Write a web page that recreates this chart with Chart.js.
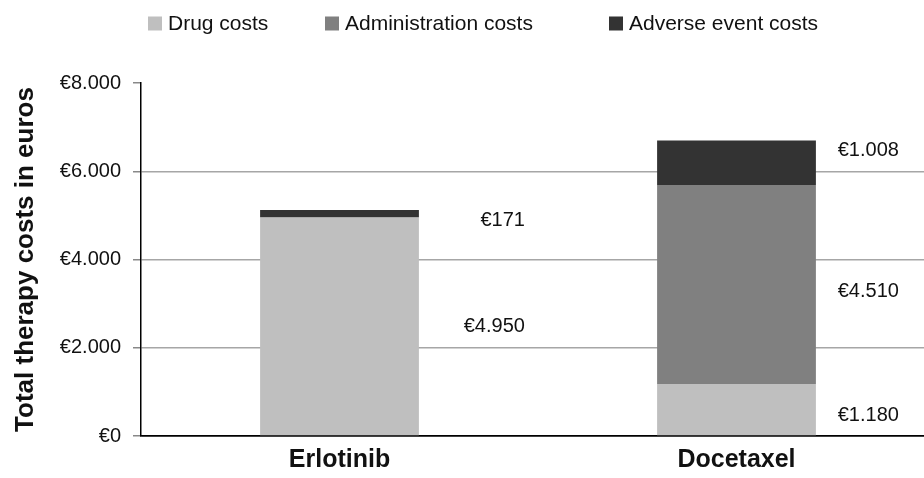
<!DOCTYPE html>
<html><head><meta charset="utf-8">
<script src="https://cdn.jsdelivr.net/npm/chart.js@4/dist/chart.umd.min.js"></script>
<style>html,body{margin:0;padding:0;background:#fff;overflow:hidden}#wrap{width:924px;height:478px;overflow:hidden}#inner{width:935px;height:478px}</style>
</head><body><div id="wrap"><div id="inner"><canvas id="c"></canvas></div></div>
<script>
const categories = ['Erlotinib', 'Docetaxel'];
const seriesNames = ['Drug costs', 'Administration costs', 'Adverse event costs'];
const drugCosts = [4950, 1180];
const adminCosts = [0, 4510];
const adverseCosts = [171, 1008];
const yTicks = [0, 2000, 4000, 6000, 8000];
const colors = ['#bfbfbf', '#808080', '#333333'];

const FONT = '"Liberation Sans", Arial, sans-serif';

function euro(v){
  return '€' + v.toString().replace(/\B(?=(\d{3})+(?!\d))/g, '.');
}

// label placement styling: [dx from bar right edge (right-aligned), dy from segment middle]
const labelPlacement = {
  0: {0:[106,0], 2:[106,7]},
  1: {0:[83,6], 1:[83,7], 2:[83,-12]}
};

const valueLabels = {
  id:'valueLabels',
  afterDatasetsDraw(chart){
    const ctx = chart.ctx;
    ctx.save();
    ctx.font = '20px ' + FONT;
    ctx.fillStyle = '#111';
    ctx.textAlign = 'right';
    ctx.textBaseline = 'middle';
    chart.data.datasets.forEach((ds, di) => {
      const meta = chart.getDatasetMeta(di);
      meta.data.forEach((bar, i) => {
        const v = ds.data[i];
        if (!v) return;
        const p = (labelPlacement[i] || {})[di] || [20,0];
        const right = bar.x + bar.width/2;
        const mid = (bar.y + bar.base)/2;
        ctx.fillText(euro(v), right + p[0], mid + p[1]);
      });
    });
    ctx.restore();
  }
};

// legend styling: item box x positions, centre line
const legendBoxX = [148, 325, 609];
const legendY = 23.5;
const customLegend = {
  id:'customLegend',
  afterDraw(chart){
    const ctx = chart.ctx;
    ctx.save();
    ctx.font = '21px ' + FONT;
    ctx.textBaseline = 'middle';
    ctx.textAlign = 'left';
    chart.data.datasets.forEach((ds, k) => {
      const x = legendBoxX[k];
      ctx.fillStyle = ds.backgroundColor;
      ctx.fillRect(x, legendY - 7, 14, 14);
      ctx.fillStyle = '#111';
      ctx.fillText(ds.label, x + 20, legendY + 1);
    });
    ctx.restore();
  }
};

const dataArrays = [drugCosts, adminCosts, adverseCosts];
new Chart(document.getElementById('c'), {
  type:'bar',
  data:{
    labels: categories,
    datasets: seriesNames.map((n, k) => ({
      label:n, data:dataArrays[k], backgroundColor:colors[k],
      barPercentage:0.4, categoryPercentage:1.0, borderWidth:0
    }))
  },
  plugins:[valueLabels, customLegend],
  options:{
    responsive:true, maintainAspectRatio:false, animation:false,
    devicePixelRatio:1,
    layout:{padding:{left:10, right:0, top:83, bottom:-6}},
    plugins:{
      legend:{display:false},
      tooltip:{enabled:false}
    },
    scales:{
      x:{
        stacked:true,
        grid:{display:false, drawTicks:false},
        border:{display:true, color:'#000', width:1.5},
        ticks:{color:'#111', padding:9, font:{family:FONT, size:25, weight:'bold'}}
      },
      y:{
        stacked:true, min:0, max:8000,
        afterBuildTicks(scale){ scale.ticks = yTicks.map(v => ({value:v})); },
        afterFit(scale){ scale.width = 131; },
        grid:{
          color:(c) => (c.tick && c.tick.value === 8000) ? 'rgba(0,0,0,0)' : (c.tick && c.tick.value === 0 ? '#000' : '#a6a6a6'),
          tickColor:'#888', tickLength:8, lineWidth:1.5
        },
        border:{display:true, color:'#000', width:1.5},
        ticks:{
          color:'#111', padding:12,
          font:{family:FONT, size:20},
          callback:(v) => euro(v)
        },
        title:{
          display:true, text:'Total therapy costs in euros', color:'#111',
          font:{family:FONT, size:26, weight:'bold'},
          padding:{top:0, bottom:4}
        }
      }
    }
  }
});
</script></body></html>
